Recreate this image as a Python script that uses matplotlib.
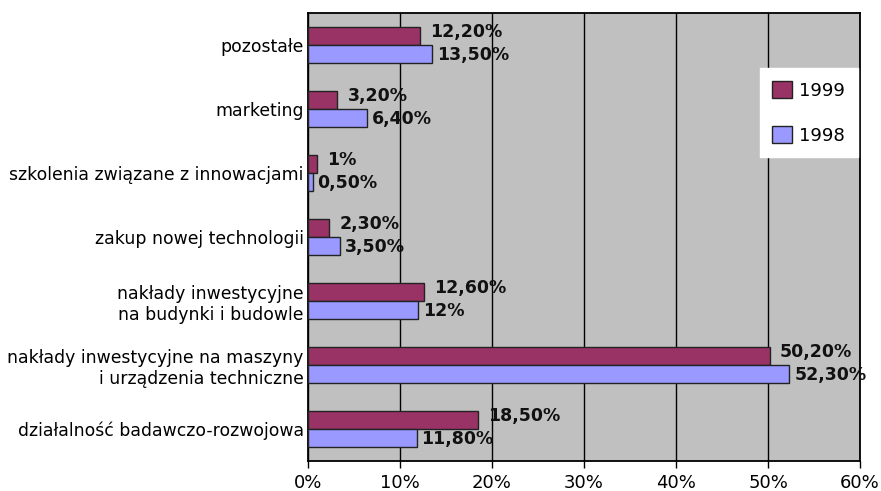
import numpy as np
import matplotlib.pyplot as plt
from matplotlib.ticker import FuncFormatter

# categories listed top to bottom
categories = [
    'pozostałe',
    'marketing',
    'szkolenia związane z innowacjami',
    'zakup nowej technologii',
    'nakłady inwestycyjne\nna budynki i budowle',
    'nakłady inwestycyjne na maszyny\ni urządzenia techniczne',
    'działalność badawczo-rozwojowa',
]
values_1999 = [12.2, 3.2, 1.0, 2.3, 12.6, 50.2, 18.5]
values_1998 = [13.5, 6.4, 0.5, 3.5, 12.0, 52.3, 11.8]
labels_1999 = ['12,20%', '3,20%', '1%', '2,30%', '12,60%', '50,20%', '18,50%']
labels_1998 = ['13,50%', '6,40%', '0,50%', '3,50%', '12%', '52,30%', '11,80%']

plt.rcParams['font.family'] = ['DejaVu Sans']

fig = plt.figure(figsize=(8.81, 4.91), dpi=100)
ax = fig.add_axes([308 / 881, 1 - 461 / 491, 552 / 881, 448 / 491])
ax.set_facecolor('#C0C0C0')

y = np.arange(len(categories))
h = 0.28
bars99 = ax.barh(y - h / 2, values_1999, height=h, color='#993366',
                 edgecolor='#222222', linewidth=1, label='1999', zorder=3)
bars98 = ax.barh(y + h / 2, values_1998, height=h, color='#9999FF',
                 edgecolor='#222222', linewidth=1, label='1998', zorder=3)

for i in range(len(categories)):
    ax.annotate(labels_1999[i], xy=(values_1999[i], y[i] - h / 2),
                xytext=(10, 4), textcoords='offset pixels', ha='left',
                va='center', fontsize=12.5, fontweight='bold', color='#111111',
                zorder=4)
    ax.annotate(labels_1998[i], xy=(values_1998[i], y[i] + h / 2),
                xytext=(5, -1), textcoords='offset pixels', ha='left',
                va='center', fontsize=12.5, fontweight='bold', color='#111111',
                zorder=4)

ax.set_xlim(0, 60)
ax.set_ylim(len(categories) - 0.5, -0.5)
ax.set_xticks(np.arange(0, 61, 10))
ax.xaxis.set_major_formatter(FuncFormatter(lambda v, p: f'{v:.0f}%'))
ax.set_yticks(y)
ax.set_yticklabels(categories, fontsize=12.4)
ax.tick_params(axis='y', length=0, pad=3)
ax.tick_params(axis='x', length=5, width=1, labelsize=13, pad=4)
ax.grid(axis='x', color='black', linewidth=1, zorder=1)
for s in ax.spines.values():
    s.set_linewidth(1.3)
    s.set_color('black')

handles = [bars99, bars98]
leg = ax.legend(handles, ['1999', '1998'], loc='upper right',
                bbox_to_anchor=(0.9964, 0.877), borderaxespad=0,
                frameon=True, fancybox=False,
                framealpha=1, edgecolor='white', facecolor='white',
                fontsize=13, handlelength=1.1, handleheight=1.1,
                labelspacing=1.45, handletextpad=0.4, borderpad=0.7)
leg.set_zorder(5)

fig.savefig('out.png', dpi=100)
